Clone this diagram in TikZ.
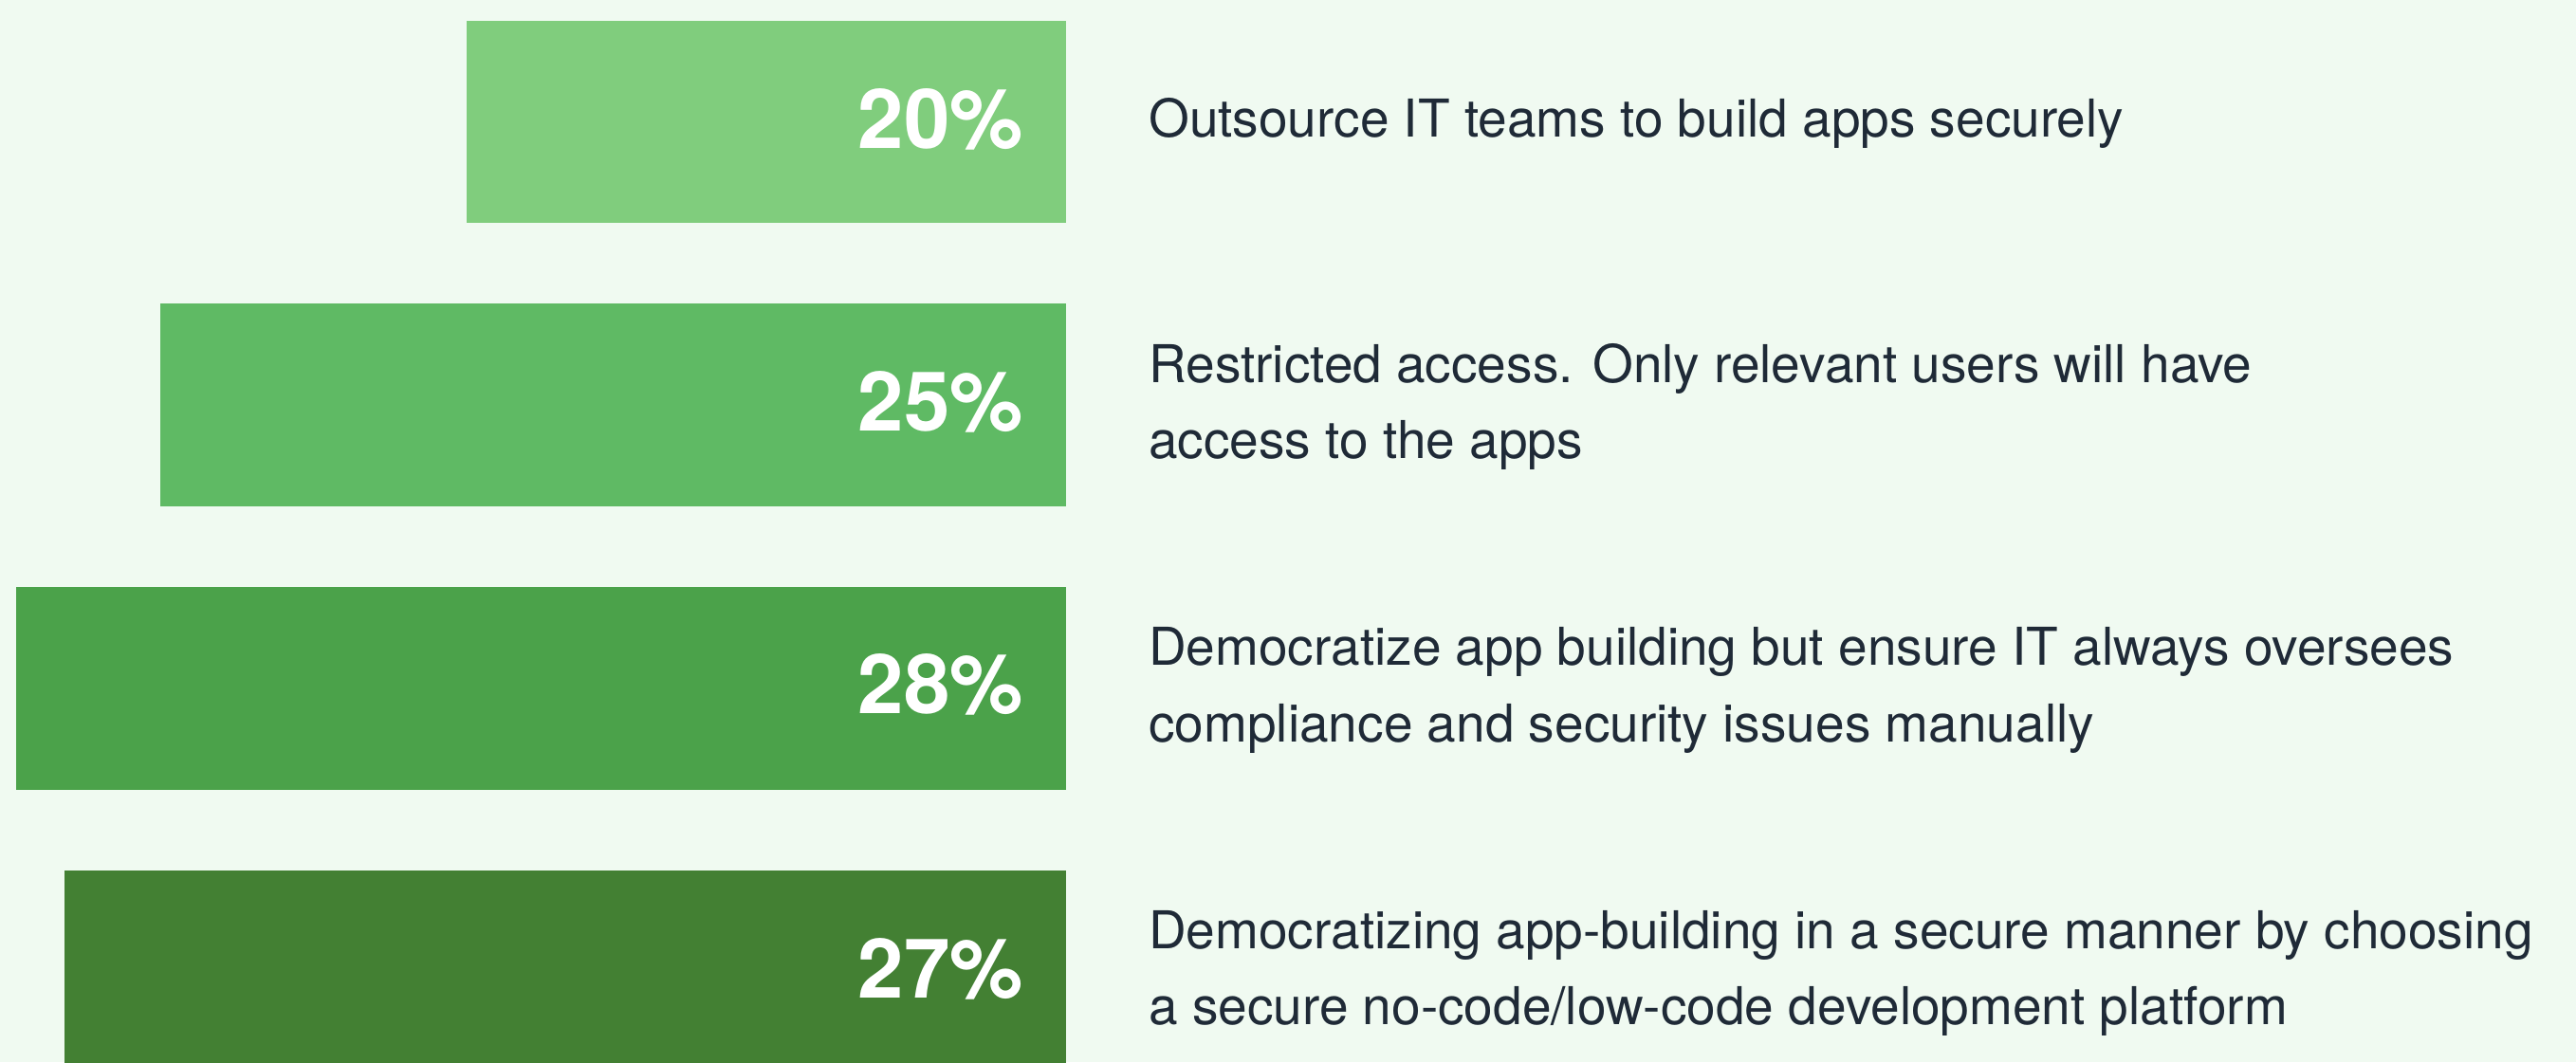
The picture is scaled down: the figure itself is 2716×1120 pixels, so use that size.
\documentclass[tikz,border=0pt]{standalone}
\usepackage{fontspec}
\setmainfont{TeX Gyre Heros}
\definecolor{bgc}{RGB}{240,250,241}
\definecolor{barA}{RGB}{128,205,125}
\definecolor{barB}{RGB}{95,186,100}
\definecolor{barC}{RGB}{75,162,74}
\definecolor{barD}{RGB}{67,128,51}
\definecolor{txt}{RGB}{31,42,55}
\tikzset{
  bar/.style={fill=#1, draw=none},
  pct/.style={anchor=base east, inner sep=0pt, text=white, font=\fontsize{87}{100}\selectfont\bfseries},
  desc/.style={anchor=base west, inner sep=0pt, text=txt, font=\fontsize{55}{64}\selectfont}
}
\begin{document}
\begin{tikzpicture}[x=1pt,y=-1pt]
\fill[bgc] (0,0) rectangle (2716,1120);
\useasboundingbox (0,0) rectangle (2716,1120);
\path[bar=barA] (492,22) rectangle (1124,235);
\path[bar=barB] (169,320) rectangle (1124,534);
\path[bar=barC] (17,619) rectangle (1124,833);
\path[bar=barD] (68,918) rectangle (1124,1132);
\node[pct] (p1) at (1079,156) {20\%};
\node[pct] (p2) at (1079,454) {25\%};
\node[pct] (p3) at (1079,752) {28\%};
\node[pct] (p4) at (1079,1052) {27\%};
\node[desc] (d1) at (1211,144) {Outsource IT teams to build apps securely};
\node[desc] (d2a) at (1211,403) {Restricted access. Only relevant users will have};
\node[desc] (d2b) at (1211,483) {access to the apps};
\node[desc] (d3a) at (1211,701) {Democratize app building but ensure IT always oversees};
\node[desc] (d3b) at (1211,782) {compliance and security issues manually};
\node[desc] (d4a) at (1211,1000) {Democratizing app-building in a secure manner by choosing};
\node[desc] (d4b) at (1211,1080) {a secure no-code/low-code development platform};
\end{tikzpicture}
\end{document}
